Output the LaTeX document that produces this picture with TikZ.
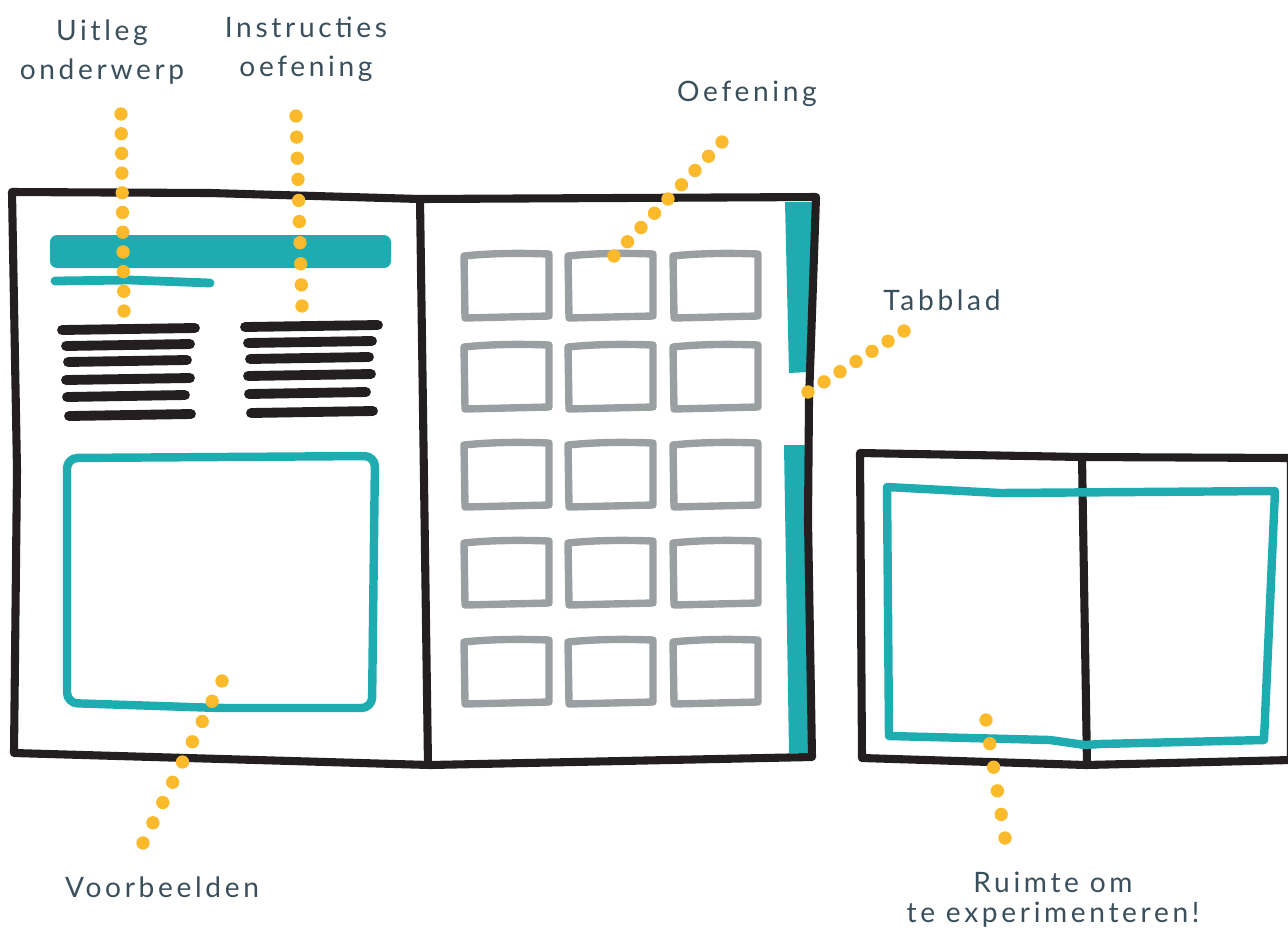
\documentclass[tikz,border=0pt]{standalone}
\usepackage{fontspec}
\newfontfamily\handfont[LetterSpace=13]{Lato}
\usepackage{tikz}
\usetikzlibrary{calc,positioning}
\definecolor{tabteal}{HTML}{1EACB1}
\definecolor{inkblack}{HTML}{231F20}
\definecolor{boxgrey}{HTML}{9A9FA2}
\definecolor{dotyellow}{HTML}{FBBA2B}
\definecolor{labelgrey}{HTML}{3A4F5C}
\tikzset{
labeltext/.style={font={\handfont\fontsize{16}{22}\selectfont},text=labelgrey,align=center,inner sep=0pt},
ink/.style={draw=inkblack,line width=4.6pt,line join=round,line cap=round},
tealline/.style={draw=tabteal,line width=4.8pt,line join=round,line cap=round},
greybox/.style={draw=boxgrey,line width=4.2pt,line join=round,line cap=round},
textline/.style={draw=inkblack,line width=5.6pt,line cap=round},
leaderdot/.style={fill=dotyellow}
}

\begin{document}
\begin{tikzpicture}[x=0.02cm,y=-0.02cm]
\useasboundingbox (0,0) rectangle (1288,931);

% labels
\node[labeltext] (uitleg) at (102,52) {Uitleg\\onderwerp};
\node[labeltext] (instr) at (306,49) {Instructies\\oefening};
\node[labeltext] (oef) at (747,94) {Oefening};
\node[labeltext] (tab) at (942,300) {Tabblad};
\node[labeltext] (voorb) at (162,887) {Voorbeelden};
\node[labeltext,font={\handfont\fontsize{16}{17}\selectfont}] (ruimte) at (1053,900) {Ruimte om\\te experimenteren!};

% left book: tabs first, then the outline
\fill[tabteal] (785,202) -- (814,202) -- (809,372) -- (789,373) -- cycle;
\fill[tabteal] (784,445) -- (806,445) -- (811,753) -- (789,753) -- cycle;
\draw[ink] (12,192) -- (210,193) -- (420,199) -- (816,197) -- (809,400) -- (808,520) -- (812,757)
  -- (430,765) -- (14,753) -- (17,470) -- cycle;
\draw[ink] (420,199) -- (424,480) -- (428,765);

% left page
\fill[tabteal,rounded corners=4pt] (50,235) rectangle (391,268);
\draw[tabteal,line width=5pt,line cap=round] (55,281) -- (130,280) -- (210,283);
\foreach \y/\a/\b in {329/62/195,345/66/190,361/68/187,379/66/190,396/67/185,415/69/191}
  \draw[textline] (\a,\y+1) -- (\b,\y-1);
\foreach \y/\a/\b in {326/245/378,342/248/372,358/250/369,375/248/371,393/249/366,412/251/373}
  \draw[textline] (\a,\y+1) -- (\b,\y-1);
\draw[tealline,rounded corners=6pt] (67,458) -- (375,456) -- (372,708) -- (220,708) -- (67,703) -- cycle;

% right page: grid of exercises
\foreach \x in {464,568,673}
  \foreach \y in {254,345,443,541,640}
    \draw[greybox] (\x,\y+2) .. controls (\x+28,\y-1) and (\x+58,\y-1) .. (\x+85,\y)
      -- (\x+85,\y+62) -- (\x+1,\y+64) -- cycle;

% right book
\draw[ink] (860,453) -- (1082,457) -- (1291,458) -- (1291,760) -- (1086,765) -- (862,758) -- cycle;
\draw[ink] (1082,457) -- (1087,765);
\draw[tealline] (887,487) -- (1000,493) -- (1275,491) -- (1264,740) -- (1100,744) -- (1085,745)
  -- (1050,740) -- (889,736) -- cycle;

% leaders
\coordinate (uitleg-s) at (121,114);  \coordinate (uitleg-e) at (124,311);
\coordinate (instr-s) at (296,116);   \coordinate (instr-e) at (302,306);
\coordinate (oef-s) at (722,142);     \coordinate (oef-e) at (614,256);
\coordinate (tab-s) at (904,331);     \coordinate (tab-e) at (808,392);
\coordinate (voorb-s) at (143,843);   \coordinate (voorb-e) at (222,681);
\coordinate (ruimte-s) at (1005,838); \coordinate (ruimte-e) at (986,720);
\foreach \s/\e/\n in {uitleg-s/uitleg-e/10,instr-s/instr-e/9,oef-s/oef-e/8,tab-s/tab-e/6,voorb-s/voorb-e/8,ruimte-s/ruimte-e/5}
  \foreach \i in {0,...,\n}
    \fill[leaderdot] ($(\s)!\i/\n!(\e)$) circle[radius=3.8pt];
\end{tikzpicture}
\end{document}
